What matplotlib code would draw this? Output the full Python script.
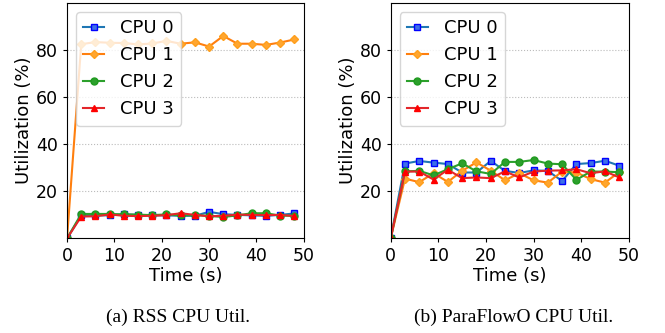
import matplotlib.pyplot as plt
import numpy as np

# sample times (s)
time_s = np.arange(0, 49, 3)

cpu_labels = ["CPU 0", "CPU 1", "CPU 2", "CPU 3"]

# (a) RSS CPU utilization (%)
rss_cpu0 = [0, 9.8, 9.8, 9.8, 10.3, 10.0, 9.8, 9.8, 9.6, 9.6, 11.3, 10.3, 10.0, 9.8, 9.6, 10.0, 10.6]
rss_cpu1 = [0, 82.5, 83.4, 83.1, 83.0, 82.4, 82.8, 83.9, 82.7, 83.3, 81.5, 86.0, 82.7, 82.7, 82.2, 83.2, 84.5]
rss_cpu2 = [0, 10.4, 10.4, 10.4, 10.2, 10.1, 9.9, 10.2, 9.8, 9.9, 9.6, 9.1, 9.8, 10.7, 10.7, 9.7, 9.6]
rss_cpu3 = [0, 9.3, 9.4, 10.2, 9.6, 9.5, 9.6, 9.9, 10.7, 10.0, 9.4, 9.6, 10.1, 10.0, 9.9, 10.0, 9.5]

# (b) ParaFlowO CPU utilization (%)
pfo_cpu0 = [0, 31.8, 32.9, 32.2, 31.6, 28.0, 28.0, 32.9, 28.7, 27.8, 28.9, 28.7, 24.4, 31.6, 32.0, 33.0, 30.9]
pfo_cpu1 = [0, 25.4, 23.9, 27.7, 24.0, 28.7, 32.3, 28.8, 24.7, 27.7, 24.7, 23.7, 28.4, 28.0, 25.2, 23.7, 28.2]
pfo_cpu2 = [0, 28.5, 28.7, 26.8, 29.4, 31.9, 28.5, 27.4, 32.5, 32.5, 33.3, 31.8, 31.5, 24.9, 28.4, 28.4, 28.1]
pfo_cpu3 = [0, 28.4, 28.4, 25.0, 29.2, 25.6, 25.9, 25.6, 28.5, 25.9, 28.4, 28.8, 28.9, 29.4, 27.7, 28.5, 25.9]

captions = ["(a) RSS CPU Util.", "(b) ParaFlowO CPU Util."]

styles = [
    dict(color="tab:blue", marker="s", mfc="#3d6fe8", mec="blue"),
    dict(color="tab:orange", marker="D", mfc="#ffa630", mec="#ff9f1c", markersize=4.5),
    dict(color="tab:green", marker="o", mfc="tab:green", mec="#1f9a1f"),
    dict(color="#e3262a", marker="^", mfc="red", mec="red"),
]

fig = plt.figure(figsize=(6.65, 3.33), dpi=100)
axes = [fig.add_axes((0.1008, 0.284, 0.356, 0.707)),
        fig.add_axes((0.5875, 0.284, 0.358, 0.707))]

datasets = [[rss_cpu0, rss_cpu1, rss_cpu2, rss_cpu3],
            [pfo_cpu0, pfo_cpu1, pfo_cpu2, pfo_cpu3]]

for ax, series, cap in zip(axes, datasets, captions):
    for vals, lab, st in zip(series, cpu_labels, styles):
        st = dict(st)
        ms = st.pop("markersize", 5)
        ax.plot(time_s, vals, label=lab, linewidth=1.5, markersize=ms, **st)
    ax.set_xlim(0, 50)
    ax.set_ylim(0, 100)
    ax.set_xticks([0, 10, 20, 30, 40, 50])
    ax.set_yticks([20, 40, 60, 80])
    ax.tick_params(labelsize=12.5, length=3)
    ax.grid(True, axis="y", linestyle=":", color="#bbbbbb", linewidth=0.8)
    ax.set_axisbelow(True)
    ax.set_xlabel("Time (s)", fontsize=13, labelpad=1)
    ax.set_ylabel("Utilization (%)", fontsize=13, labelpad=2)
    ax.legend(loc="upper left", fontsize=13, handlelength=1.15,
              handletextpad=0.9, borderaxespad=0.5, labelspacing=0.5,
              framealpha=0.8)

fig.text(0.267, 0.048, captions[0], ha="center", va="center",
         fontsize=14, family="Liberation Serif")
fig.text(0.773, 0.048, captions[1], ha="center", va="center",
         fontsize=14, family="Liberation Serif")

fig.savefig("out.png", dpi=100)
